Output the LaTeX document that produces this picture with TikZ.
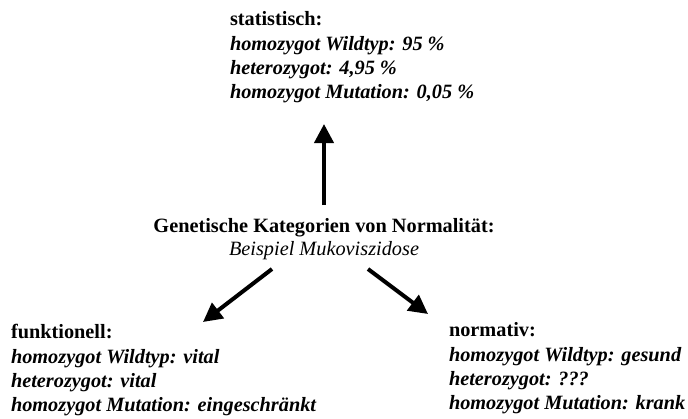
\documentclass[tikz,border=0pt]{standalone}
\usepackage{fontspec}
\setmainfont{Liberation Serif}
\usetikzlibrary{arrows.meta}
\tikzset{
  txt/.style={inner sep=0pt, outer sep=0pt, anchor=base west, font=\fontsize{20.3}{24.3}\selectfont},
  ctr/.style={inner sep=0pt, outer sep=0pt, anchor=base, font=\fontsize{20.3}{24.3}\selectfont},
  bigarrow/.style={line width=4pt, -{Triangle[width=19pt,length=19pt]}}
}
\newcommand{\blockhead}[1]{\textbf{#1}}
\newcommand{\blockitem}[1]{\textbf{\textit{#1}}}
\begin{document}
\begin{tikzpicture}[x=1pt,y=-1pt]
\useasboundingbox (0,0) rectangle (688,418);
% top block
\node[txt] (st0) at (230,25) {\blockhead{statistisch:}};
\node[txt] (st1) at (230,50) {\blockitem{homozygot Wildtyp: 95 \%}};
\node[txt] (st2) at (230,74) {\blockitem{heterozygot: 4,95 \%}};
\node[txt] (st3) at (230,98) {\blockitem{homozygot Mutation: 0,05 \%}};
% center
\node[ctr] (c0) at (324,232) {\textbf{Genetische Kategorien von Normalität:}};
\node[ctr] (c1) at (324,255) {\textit{Beispiel Mukoviszidose}};
% left block
\node[txt] (f0) at (11,338) {\blockhead{funktionell:}};
\node[txt] (f1) at (11,363) {\blockitem{homozygot Wildtyp: vital}};
\node[txt] (f2) at (11,387) {\blockitem{heterozygot: vital}};
\node[txt] (f3) at (11,411) {\blockitem{homozygot Mutation: eingeschränkt}};
% right block
\node[txt] (n0) at (449,336) {\blockhead{normativ:}};
\node[txt] (n1) at (449,361) {\blockitem{homozygot Wildtyp: gesund}};
\node[txt] (n2) at (449,385) {\blockitem{heterozygot: ???}};
\node[txt] (n3) at (449,409) {\blockitem{homozygot Mutation: krank}};
% arrow endpoints
\coordinate (upS) at (324,205);
\coordinate (upE) at (324,124);
\coordinate (lS) at (272,269);
\coordinate (lE) at (203,322);
\coordinate (rS) at (368,269);
\coordinate (rE) at (428,314);
\draw[bigarrow] (upS) -- (upE);
\draw[bigarrow] (lS) -- (lE);
\draw[bigarrow] (rS) -- (rE);
\end{tikzpicture}
\end{document}
